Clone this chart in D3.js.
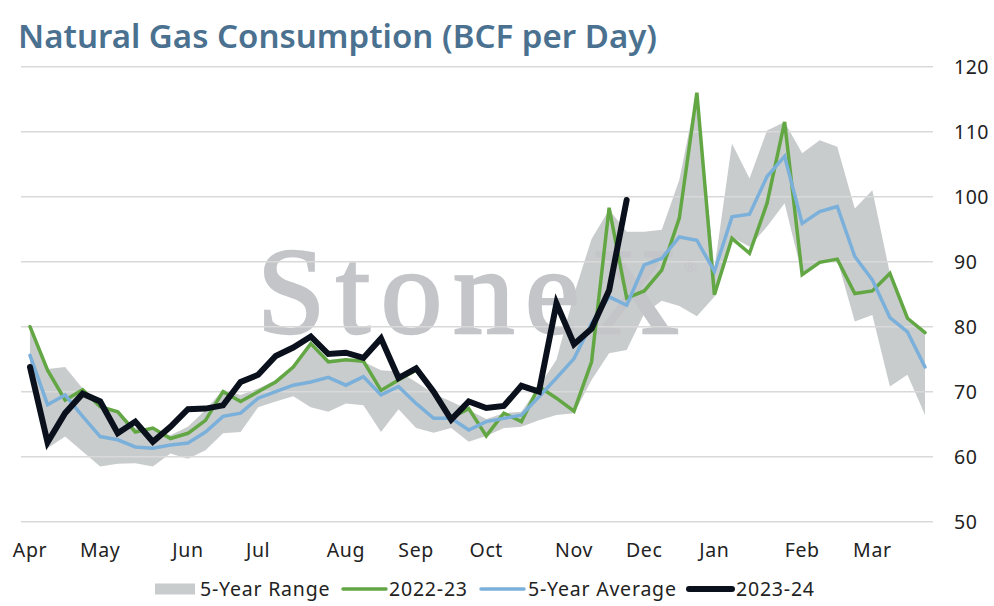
<!DOCTYPE html>
<html>
<head>
<meta charset="utf-8">
<script src="https://cdn.jsdelivr.net/npm/d3@7"></script>
<style>
  body { margin: 0; background: #fff; }
  svg { display: block; }
</style>
</head>
<body>
<div id="chart"></div>
<script>
// week labels shown on the x axis (index of the week where each month starts)
const months = ['Apr', 'May', 'Jun', 'Jul', 'Aug', 'Sep', 'Oct', 'Nov', 'Dec', 'Jan', 'Feb', 'Mar'];
const monthWeek = [0, 4, 9, 13, 18, 22, 26, 31, 35, 39, 44, 48];
const yTicks = [50, 60, 70, 80, 90, 100, 110, 120];

// 5-year range, high and low, per week
const rangeHigh = [80.0, 73.5, 73.8, 70.5, 68.0, 67.0, 64.4, 64.1, 63.3, 64.6, 67.2, 70.3, 69.5,
  70.5, 71.8, 74.0, 77.4, 74.6, 74.9, 74.6, 73.3, 73.1, 71.5, 69.7, 68.5, 67.2, 65.8,
  66.7, 66.9, 70.8, 74.9, 85.0, 93.5, 98.0, 94.6, 94.6, 94.9, 102.6, 116.0, 89.0, 108.2,
  102.8, 110.2, 111.5, 106.7, 108.7, 107.7, 98.2, 101.0, 88.2, 81.3, 79.1];
const rangeLow = [72.5, 61.3, 63.1, 60.8, 58.5, 58.9, 59.0, 58.5, 60.5, 59.7, 61.0, 63.6, 63.8,
  67.6, 68.5, 69.3, 67.6, 66.9, 68.2, 67.9, 63.8, 67.3, 64.4, 63.7, 64.4, 62.3, 63.2,
  64.4, 64.6, 65.6, 66.4, 66.7, 71.8, 75.9, 76.4, 82.0, 84.0, 83.2, 81.6, 84.6, 93.8,
  92.3, 95.4, 99.0, 88.0, 89.7, 90.3, 80.8, 81.8, 70.8, 72.6, 66.4];

const season2223 = [80.0, 73.3, 68.7, 70.3, 67.7, 66.9, 63.8, 64.4, 62.8, 63.6, 65.6, 70.0, 68.5,
  70.0, 71.5, 73.8, 77.4, 74.6, 74.9, 74.7, 70.2, 71.8, 73.3, 70.0, 66.0, 67.4, 63.2,
  66.7, 65.4, 70.8, 69.0, 67.0, 74.6, 98.3, 84.4, 85.5, 88.7, 96.7, 116.0, 84.9, 93.6,
  91.3, 99.0, 111.5, 88.0, 89.9, 90.4, 85.1, 85.5, 88.2, 81.3, 79.1];

const fiveYearAvg = [75.6, 68.0, 69.5, 66.2, 63.1, 62.6, 61.5, 61.3, 61.8, 62.1, 63.8, 66.2, 66.7,
  69.0, 70.0, 71.0, 71.5, 72.2, 71.0, 72.3, 69.5, 70.8, 68.2, 65.9, 65.9, 64.1, 65.4,
  65.9, 66.4, 69.2, 72.1, 75.1, 80.5, 84.6, 83.3, 89.5, 90.5, 93.8, 93.3, 88.5, 96.9,
  97.3, 103.1, 106.2, 95.9, 97.7, 98.5, 90.8, 87.2, 81.4, 79.2, 73.8];

const season2324 = [73.8, 62.2, 66.7, 69.7, 68.5, 63.6, 65.4, 62.3, 64.6, 67.3, 67.4, 67.9, 71.5,
  72.6, 75.5, 76.8, 78.5, 75.8, 76.0, 75.2, 78.2, 72.1, 73.6, 70.0, 65.7, 68.5, 67.5,
  67.8, 70.9, 70.0, 83.6, 77.3, 79.7, 85.6, 99.5];

const width = 994, height = 606;
const font = '"Noto Sans", "Open Sans", sans-serif';

const svg = d3.select('#chart')
  .append('svg')
  .attr('width', width)
  .attr('height', height);

const x = d3.scaleLinear()
  .domain([0, rangeHigh.length - 1])
  .range([30, 925]);
const y = d3.scaleLinear()
  .domain([50, 120])
  .range([521.7, 66.7]);

// title
svg.append('text')
  .attr('x', 18)
  .attr('y', 48)
  .attr('font-family', font)
  .attr('font-weight', 600)
  .attr('font-size', 32)
  .attr('textLength', 639)
  .attr('lengthAdjust', 'spacingAndGlyphs')
  .attr('fill', '#4b7190')
  .text('Natural Gas Consumption (BCF per Day)');

// 5-year range band
const area = d3.area()
  .x((d, i) => x(i))
  .y0((d, i) => y(rangeLow[i]))
  .y1(d => y(d));
svg.append('path')
  .datum(rangeHigh)
  .attr('d', area)
  .attr('fill', '#c9cccd');

// watermark
const mark = svg.append('g');
mark.append('text')
  .attr('x', 257)
  .attr('y', 333)
  .attr('font-family', '"Liberation Serif", serif')
  .attr('font-size', 123)
  .attr('textLength', 422)
  .attr('lengthAdjust', 'spacing')
  .attr('fill', '#c4c5c9')
  .attr('stroke', '#c4c5c9')
  .attr('stroke-width', 2.5)
  .text('StoneX');
mark.append('text')
  .attr('x', 684)
  .attr('y', 272)
  .attr('font-family', font)
  .attr('font-size', 16)
  .attr('fill', '#c4c5c9')
  .text('®');

// gridlines + right axis labels
const yAxis = svg.append('g');
yAxis.selectAll('line')
  .data(yTicks)
  .enter()
  .append('line')
  .attr('x1', 21)
  .attr('x2', 933)
  .attr('y1', d => y(d))
  .attr('y2', d => y(d))
  .attr('stroke', '#d9d9d9')
  .attr('stroke-width', 1.5);
yAxis.selectAll('text')
  .data(yTicks)
  .enter()
  .append('text')
  .attr('x', 954)
  .attr('y', d => y(d))
  .attr('dy', '0.35em')
  .attr('font-family', font)
  .attr('font-size', 19.5)
  .attr('letter-spacing', 0.5)
  .attr('fill', '#222')
  .text(d => d);

// month labels
svg.append('g')
  .selectAll('text')
  .data(months)
  .enter()
  .append('text')
  .attr('x', (d, i) => x(monthWeek[i]))
  .attr('y', 557)
  .attr('text-anchor', 'middle')
  .attr('font-family', font)
  .attr('font-size', 19.5)
  .attr('letter-spacing', 0.6)
  .attr('fill', '#222')
  .text(d => d);

// series lines
const line = d3.line()
  .x((d, i) => x(i))
  .y(d => y(d));
const series = [
  { name: '2022-23', values: season2223, color: '#62a744', w: 3.5 },
  { name: '5-Year Average', values: fiveYearAvg, color: '#7bb0da', w: 3.5 },
  { name: '2023-24', values: season2324, color: '#0b111c', w: 6 }
];
series.forEach(s => {
  svg.append('path')
    .datum(s.values)
    .attr('d', line)
    .attr('fill', 'none')
    .attr('stroke', s.color)
    .attr('stroke-width', s.w)
    .attr('stroke-linejoin', 'miter')
    .attr('stroke-linecap', 'round');
});

// legend
const legend = svg.append('g')
  .attr('font-family', font)
  .attr('font-size', 19.5)
  .attr('letter-spacing', 0.8)
  .attr('fill', '#222');
const ly = 589;
legend.append('rect')
  .attr('x', 155).attr('y', ly - 5.5)
  .attr('width', 40).attr('height', 11)
  .attr('fill', '#c9cccd');
legend.append('text').attr('x', 200).attr('y', ly).attr('dy', '0.35em').text('5-Year Range');
const legendLines = [
  { x: 343, tx: 389, s: series[0] },
  { x: 481, tx: 528, s: series[1] },
  { x: 689, tx: 736, s: series[2] }
];
legendLines.forEach(l => {
  legend.append('line')
    .attr('x1', l.x).attr('x2', l.x + 43)
    .attr('y1', ly).attr('y2', ly)
    .attr('stroke', l.s.color)
    .attr('stroke-width', l.s.w)
    .attr('stroke-linecap', 'round');
  legend.append('text').attr('x', l.tx).attr('y', ly).attr('dy', '0.35em').text(l.s.name);
});
</script>
</body>
</html>
